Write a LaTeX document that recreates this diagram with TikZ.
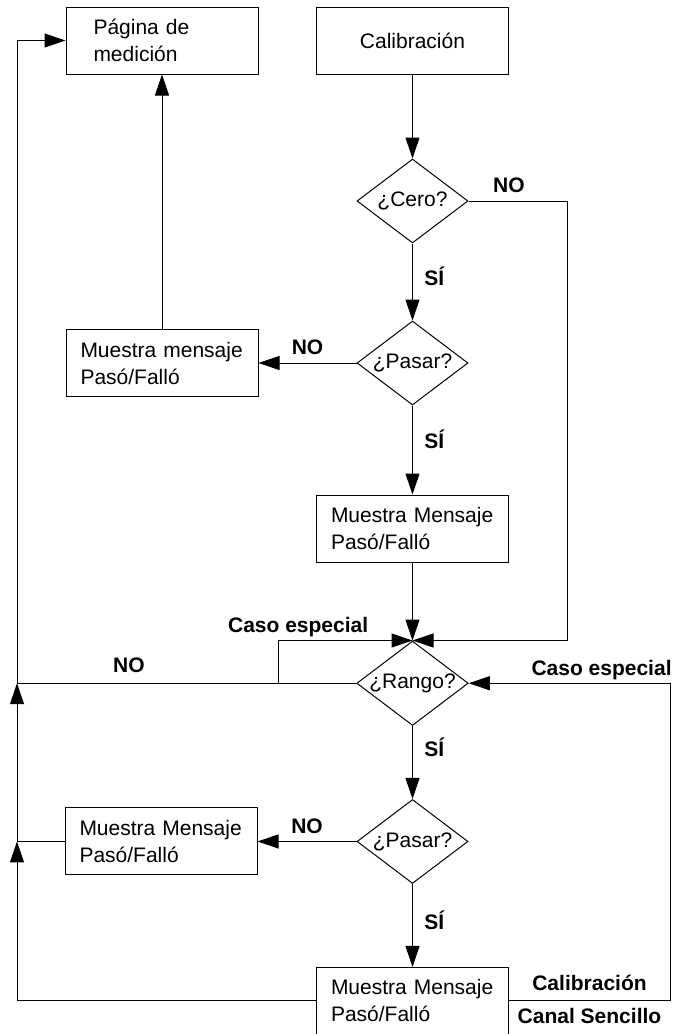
\documentclass[tikz,border=0pt]{standalone}
\usepackage{fontspec}
\setmainfont{Liberation Sans}
\usetikzlibrary{positioning, shapes.geometric, arrows.meta}

\begin{document}
\begin{tikzpicture}[
        x=1pt, y=-1pt,
        font=\fontsize{21}{27}\selectfont,
        line width=1pt,
        box/.style={rectangle, draw, minimum width=192pt, minimum height=67pt, text width=163pt, align=left, inner sep=0pt},
        cond/.style={diamond, draw, minimum width=111pt, minimum height=84pt, inner sep=0pt, aspect=1.32},
        arrow/.style={-{Triangle[length=21pt, width=14pt]}},
        lbl/.style={font=\fontsize{21}{27}\selectfont\bfseries},
    ]
        \useasboundingbox (0,0) rectangle (675,1034);

        % Columna principal
        \node[box, align=center] (cal) at (412.5,40.5) {Calibración};
        \node[cond, below=84pt of cal] (cero) {¿Cero?};
        \node[cond, below=77pt of cero] (pasa) {¿Pasar?};
        \node[box, below=89pt of pasa] (msgb) {Muestra Mensaje\\Pasó/Falló};
        \node[cond, below=78pt of msgb] (rango) {¿Rango?};
        \node[cond, below=73pt of rango] (pasb) {¿Pasar?};
        \node[box, below=83pt of pasb] (msgd) {Muestra Mensaje\\Pasó/Falló};

        % Columna izquierda
        \node[box, left=98pt of pasa] (msga) {Muestra mensaje\\Pasó/Falló};
        \node[box, left=99pt of pasb] (msgc) {Muestra Mensaje\\Pasó/Falló};
        \node[box, text width=137pt] (pag) at (msga |- cal) {Página de\\medición};

        % Lineas de retorno
        \coordinate (busl) at (17,0);
        \coordinate (busr) at (670,0);
        \coordinate (busc) at (567,0);
        \coordinate (caso) at (278,0);

        % Flechas
        \draw[arrow] (cal) -- (cero);
        \draw[arrow] (cero.east) -- node[lbl, above=4pt, pos=0.41] {NO} (busc |- cero.east) |- (rango.north);
        \draw[arrow] (cero) -- node[lbl, right=8pt, pos=0.42] {SÍ} (pasa);
        \draw[arrow] (pasa) -- node[lbl, above=4pt] {NO} (msga);
        \draw[arrow] (msga) -- (pag);
        \draw[arrow] (pasa) -- node[lbl, right=8pt, pos=0.38] {SÍ} (msgb);
        \draw[arrow] (msgb) -- (rango);
        \draw[arrow] (rango.west) -- node[lbl, above=7pt, pos=0.67] {NO} (busl |- rango.west) |- (pag.west);
        \draw[arrow] (caso |- rango.west) |- node[lbl, above, pos=0.575] {Caso especial} (rango.north);
        \draw[arrow] (msgd.east) -- node[lbl, above=6pt] {Calibración} node[lbl, below=3pt] {Canal Sencillo} (busr |- msgd.east) |- node[lbl, above, pos=0.67] {Caso especial} (rango.east);
        \draw[arrow] (rango) -- node[lbl, right=8pt, pos=0.29] {SÍ} (pasb);
        \draw[arrow] (pasb) -- node[lbl, above=4pt] {NO} (msgc);
        \draw[arrow] (msgc.west) -- (busl |- msgc.west) -- (busl |- rango.west);
        \draw[arrow] (pasb) -- node[lbl, right=8pt, pos=0.44] {SÍ} (msgd);
        \draw[arrow] (msgd.west) -- (busl |- msgd.west) -- (busl |- msgc.west);

    \end{tikzpicture}
\end{document}
